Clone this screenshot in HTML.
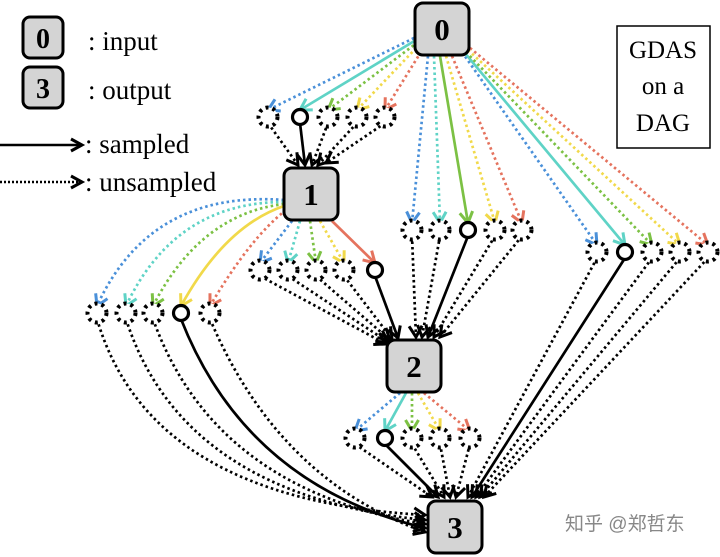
<!DOCTYPE html>
<html><head><meta charset="utf-8"><style>
html,body{margin:0;padding:0;background:#fff;}
svg{display:block}
text{font-family:"Liberation Serif",serif;}
</style></head><body>
<svg id="s" width="720" height="557" viewBox="0 0 720 557" xmlns="http://www.w3.org/2000/svg">
<g id="edges"></g>
<g id="nodes"></g>
<rect x="23" y="17" width="40" height="41" rx="7" fill="#d4d4d4" stroke="#000" stroke-width="3"/>
<text x="43" y="48" font-size="28" font-weight="bold" text-anchor="middle">0</text>
<rect x="23" y="67" width="40" height="41" rx="7" fill="#d4d4d4" stroke="#000" stroke-width="3"/>
<text x="43" y="98" font-size="28" font-weight="bold" text-anchor="middle">3</text>
<text x="88" y="50" font-size="27">: input</text>
<text x="88" y="99" font-size="27">: output</text>
<line x1="0" y1="145" x2="80" y2="145" stroke="#000" stroke-width="2.5"/>
<path d="M71,139 L82,145 L71,151" fill="none" stroke="#000" stroke-width="3"/>
<text x="85" y="153" font-size="27">: sampled</text>
<line x1="0" y1="182" x2="78" y2="182" stroke="#000" stroke-width="2.5" stroke-dasharray="2 2"/>
<path d="M71,176 L82,182 L71,188" fill="none" stroke="#000" stroke-width="3"/>
<text x="85" y="191" font-size="27">: unsampled</text>
<rect x="617" y="26" width="93" height="122" fill="#fff" stroke="#000" stroke-width="1.5"/>
<text x="663" y="58" font-size="25" text-anchor="middle">GDAS</text>
<text x="663" y="94" font-size="25" text-anchor="middle">on a</text>
<text x="663" y="131" font-size="25" text-anchor="middle">DAG</text>
<text x="565" y="530" font-size="19" fill="#888" style="font-family:'Liberation Sans','Noto Sans CJK SC',sans-serif">知乎 @郑哲东</text>
</svg>
<script>
var E=document.getElementById('edges'),N=document.getElementById('nodes');
var C=['#4a90d9','#5fd3c6','#7cc144','#f1d94a','#e5735e'];
function el(t,a,p){var e=document.createElementNS('http://www.w3.org/2000/svg',t);for(var k in a)e.setAttribute(k,a[k]);(p||E).appendChild(e);return e;}
function arrow(x1,y1,cx,cy,x2,y2,col,solid){
 var d='M'+x1+','+y1+' Q'+cx+','+cy+' '+x2+','+y2;
 el('path',{d:d,fill:'none',stroke:col,'stroke-width':2.7,'stroke-dasharray':solid?'':'2.5 3'});
 var dx=x2-cx,dy=y2-cy,L=Math.hypot(dx,dy);dx/=L;dy/=L;
 var s=11,w=6.5;
 var bx=x2-dx*s,by=y2-dy*s;
 el('path',{d:'M'+(bx-dy*w)+','+(by+dx*w)+' L'+x2+','+y2+' L'+(bx+dy*w)+','+(by-dx*w),fill:'none',stroke:col,'stroke-width':3});
}
function line(x1,y1,x2,y2,col,solid){arrow(x1,y1,(x1+x2)/2,(y1+y2)/2,x2,y2,col,solid);}
function node(cx,cy,label){
 el('rect',{x:cx-27,y:cy-26,width:54,height:52,rx:8,fill:'#d4d4d4',stroke:'#000','stroke-width':3},N);
 var t=el('text',{x:cx,y:cy+11,'font-size':31,'font-weight':'bold','text-anchor':'middle'},N);t.textContent=label;
}
var circles=[];
function group(xs,y,samp,src,tgt,srcCurve,tgtCurve){
 for(var i=0;i<5;i++){
  var x=xs[i],s=(i==samp);
  var sc=srcCurve?srcCurve(i):null;
  if(sc) arrow(src[i][0],src[i][1],sc[0],sc[1],x,y-7,C[i],s);
  else line(src[i][0],src[i][1],x,y-7,C[i],s);
  var t=tgt[i],tc=tgtCurve?tgtCurve(i):null;
  if(tc) arrow(x,y+6,tc[0],tc[1],t[0],t[1],'#000',s);
  else line(x,y+6,t[0],t[1],'#000',s);
  circles.push([x,y,s]);
 }
}
group([268,300,328,357,385],117,1,
 [[414,38],[416,40],[418,42],[420,44],[424,47]],
 [[298,165],[305,165],[312,165],[318,165],[326,163]]);
group([412,440,468,495,522],230,2,
 [[428,56],[434,56],[440,56],[446,56],[452,56]],
 [[416,337],[422,337],[428,337],[434,337],[440,337]]);
group([597,625,652,680,708],252,1,
 [[462,52],[464,52],[466,52],[468,50],[470,48]],
 [[468,497],[472,497],[476,497],[480,497],[484,497]]);
group([260,288,316,344,375],270,4,
 [[292,221],[300,221],[310,221],[320,221],[332,221]],
 [[386,344],[388,342],[390,340],[392,339],[398,338]]);
group([97,126,153,181,210],313,3,
 [[284,200],[284,202],[284,204],[284,206],[286,210]],
 [[425,515],[425,520],[425,524],[425,528],[425,532]],
 function(i){return [150+i*25,190+i*12];},
 function(i){return [150+i*32,500-i*5];});
group([355,385,412,440,470],438,1,
 [[400,393],[406,393],[412,393],[418,393],[424,393]],
 [[432,497],[438,497],[444,497],[450,497],[456,497]]);
circles.forEach(function(c){
 if(c[2]) el('circle',{cx:c[0],cy:c[1],r:7.5,fill:'#fff',stroke:'#000','stroke-width':3.2},N);
 else el('circle',{cx:c[0],cy:c[1],r:9.5,fill:'#fff',stroke:'#000','stroke-width':4,'stroke-dasharray':'3 4'},N);
});
node(442,29,'0');node(311,194,'1');node(414,366,'2');node(455,527,'3');
</script>
</body></html>
